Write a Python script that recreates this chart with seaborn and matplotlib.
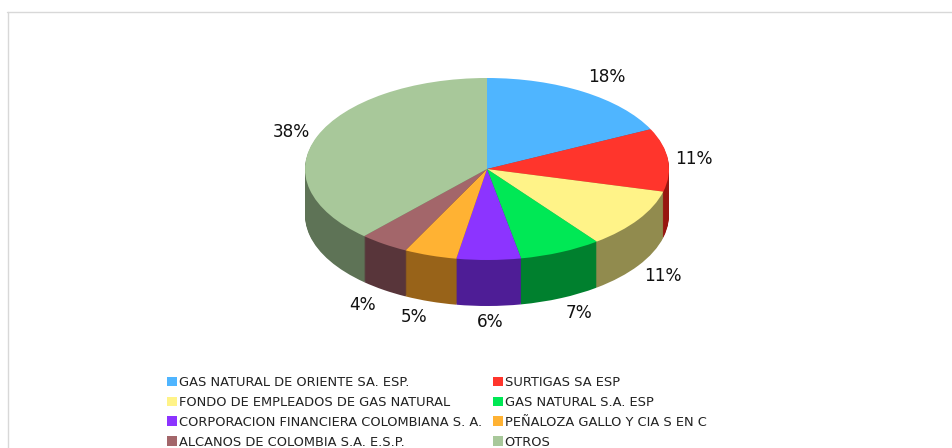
import matplotlib
matplotlib.use("Agg")
import matplotlib.pyplot as plt
from matplotlib.patches import Patch
import seaborn as sns

companies = ["GAS NATURAL DE ORIENTE SA. ESP.", "SURTIGAS SA ESP",
             "FONDO DE EMPLEADOS DE GAS NATURAL", "GAS NATURAL S.A. ESP",
             "CORPORACION FINANCIERA COLOMBIANA S. A.", "PEÑALOZA GALLO Y CIA S EN C",
             "ALCANOS DE COLOMBIA S.A. E.S.P.", "OTROS"]
shares = [17.8, 11.2, 10.7, 7.3, 5.7, 4.7, 4.4, 38.2]
share_labels = ["18%", "11%", "11%", "7%", "6%", "5%", "4%", "38%"]
top_hex = ["#4FB5FF", "#FF352C", "#FFF388", "#00E855", "#8C34FF", "#FFB233", "#A3666A", "#A8C89A"]
side_hex = ["#2A6A99", "#981610", "#918B4E", "#00802E", "#4E1D96", "#986319", "#58353A", "#5E7356"]
label_px_x = [607, 694, 663, 579, 490, 414, 363, 291]
label_px_y = [77, 159, 276, 313, 322, 317, 305, 132]

sns.set_theme(style="white")
plt.rcParams["font.family"] = ["DejaVu Sans"]
top_colors = sns.color_palette(top_hex)
side_colors = sns.color_palette(side_hex)

W, H = 952, 448
CX, CY, RX, RY, DEPTH = 487, 169, 182, 91, 46

fig = plt.figure(figsize=(W / 100, H / 100), dpi=100, facecolor="white")
ax = fig.add_axes([0, 0, 1, 1])

for off in range(DEPTH, 0, -1):
    side, _ = ax.pie(shares, colors=side_colors, startangle=90, counterclock=False,
                     center=(0, -off / RY), radius=1, frame=True)
    for w in side:
        w.set_zorder(1 + (DEPTH - off) * 0.01)
        w.set_linewidth(0)
wedges, _ = ax.pie(shares, colors=top_colors, startangle=90, counterclock=False,
                   center=(0, 0), radius=1, frame=True, wedgeprops=dict(linewidth=0))
for w in wedges:
    w.set_zorder(3)
ax.set_aspect("auto")
ax.set_xlim(-CX / RX, (W - CX) / RX)
ax.set_ylim(-(H - CY) / RY, CY / RY)
ax.axis("off")


def fx(px):
    return px / W


def fy(py):
    return 1 - py / H


for txt, px, py in zip(share_labels, label_px_x, label_px_y):
    fig.text(fx(px), fy(py), txt, ha="center", va="center", fontsize=12.2, color="#111111")

fig.add_artist(plt.Line2D([fx(7), 1], [fy(12.5), fy(12.5)], color="#D8D8D8", lw=1))
fig.add_artist(plt.Line2D([fx(7.5), fx(7.5)], [fy(12), 0], color="#D8D8D8", lw=1))

column_order = [0, 2, 4, 6, 1, 3, 5, 7]
handles = [Patch(facecolor=top_colors[i], edgecolor="none") for i in column_order]
labels = [companies[i] for i in column_order]
leg = fig.legend(handles, labels, ncol=2, loc="upper left",
                 bbox_to_anchor=(fx(167), fy(376)), frameon=False, fontsize=9.4,
                 handlelength=0.77, handleheight=0.77, handletextpad=0.13,
                 columnspacing=0.85, labelspacing=0.53, borderpad=0, borderaxespad=0,
                 labelcolor="#222222")
fig.savefig("out.png", dpi=100, facecolor="white")
